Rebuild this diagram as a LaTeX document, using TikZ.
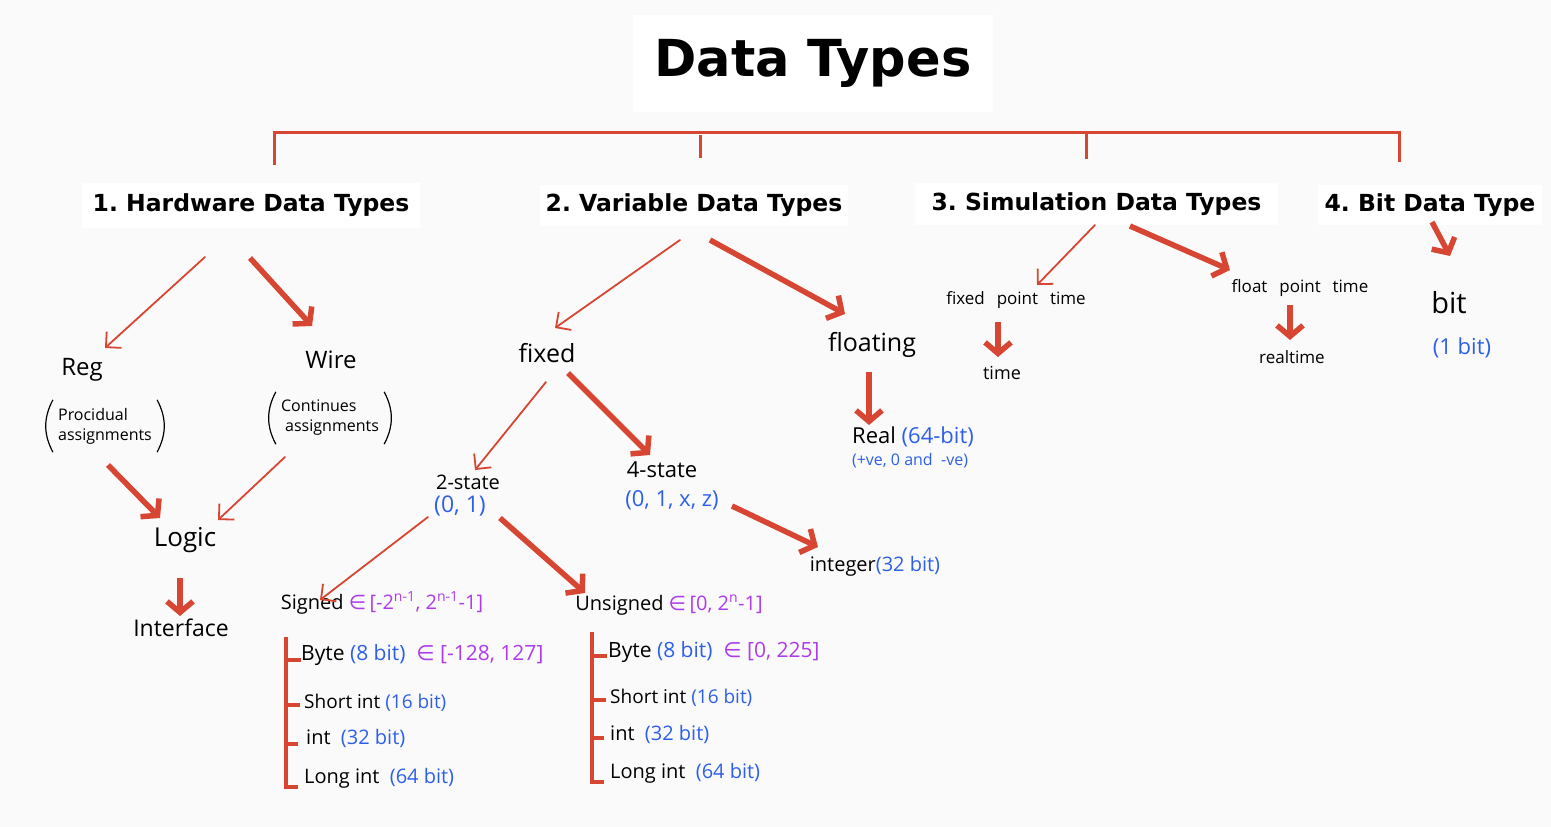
\documentclass[tikz,border=0pt]{standalone}
\usepackage{fontspec}
\setmainfont{Open Sans}
\newfontfamily\headf{DejaVu Sans}
\newfontfamily\symf{DejaVu Sans}
\usetikzlibrary{arrows.meta,calc}
\definecolor{bgc}{RGB}{250,250,250}
\definecolor{rd}{RGB}{214,70,50}
\definecolor{bl}{RGB}{45,95,235}
\definecolor{pu}{RGB}{175,60,235}
\newcommand{\fs}[1]{\fontsize{#1}{#1}\selectfont}
\newcommand{\inn}{{\symf\char"2208}}
\frenchspacing
\begin{document}
\begin{tikzpicture}[x=1pt,y=-1pt,
  head/.style={fill=white, inner sep=0pt, font=\headf\bfseries},
  hw/.style={inner sep=1pt, text=black},
  note/.style={inner xsep=9pt, inner ysep=0pt, minimum height=52pt, align=left, font=\fontsize{16}{20}\selectfont},
  paren/.style={draw=black, line width=1.2pt},
  thinarr/.style={draw=rd, line width=1.8pt, line cap=round, -{Straight Barb[length=11pt,width=22pt]}},
  thickarr/.style={draw=rd, line width=5.5pt, -{Straight Barb[length=11pt,width=26pt]}},
  brk/.style={draw=rd, line width=3pt},
  lst/.style={draw=rd, line width=4.5pt},
  tick/.style={draw=rd, line width=3.5pt}
]
\fill[bgc] (0,0) rectangle (1551,827);
\useasboundingbox (0,0) rectangle (1551,827);

% title and headings
\node[head, minimum width=360pt, minimum height=97pt, font=\headf\bfseries\fs{51}] (title) at (813,63.5) {Data Types};
\node[head, minimum width=338pt, minimum height=45pt, font=\headf\bfseries\fs{23.5}] (hwt) at (251,205.5) {1. Hardware Data Types};
\node[head, minimum width=308pt, minimum height=41pt, font=\headf\bfseries\fs{23.5}] (var) at (694,205.5) {2. Variable Data Types};
\node[head, minimum width=363pt, minimum height=42pt, font=\headf\bfseries\fs{23.5}] (sim) at (1096.5,204) {3. Simulation Data Types};
\node[head, minimum width=224pt, minimum height=40pt, font=\headf\bfseries\fs{23.5}] (bit) at (1430,205) {4. Bit Data Type};

% bracket
\draw[brk] ($(hwt.north)+(23,-18)$) -- ++(0,-32) -| ($(bit.north)+(-31,-23)$);
\draw[brk] ($(var.north)+(6,-50)$) -- ++(0,23);
\draw[brk] ($(sim.north)+(-10.5,-51)$) -- ++(0,27);

% hardware branch
\node[hw, font=\fs{24}] (reg) at (82,370) {Reg};
\node[note] (regnote) at (105,426) {Procidual\\assignments};
\draw[paren] ($(regnote.north west)+(4,0)$) to[bend right=28] ($(regnote.south west)+(4,0)$);
\draw[paren] ($(regnote.north east)+(-4,0)$) to[bend left=28] ($(regnote.south east)+(-4,0)$);
\node[hw, font=\fs{24}] (wire) at (331,360) {Wire};
\node[note] (wirenote) at (330,418) {Continues\\\ assignments};
\draw[paren] ($(wirenote.north west)+(4,0)$) to[bend right=28] ($(wirenote.south west)+(4,0)$);
\draw[paren] ($(wirenote.north east)+(-4,0)$) to[bend left=28] ($(wirenote.south east)+(-4,0)$);
\node[hw, font=\fs{26}] (logic) at (185,540) {Logic};
\node[hw, font=\fs{23}] (iface) at (181,628) {Interface};

\draw[thinarr] ($(hwt)+(-46,51.5)$) -- ($(reg)+(23,-22)$);
\draw[thickarr] ($(hwt)+(-1,52.5)$) -- ($(wire)+(-19,-34)$);
\draw[thickarr] ($(regnote)+(3,39)$) -- ($(logic)+(-25,-22)$);
\draw[thinarr] ($(wirenote)+(-45,39)$) -- ($(logic)+(33,-20)$);
\draw[thickarr] ($(logic)+(-5,38)$) -- ($(iface)+(-1,-12)$);

% variable branch
\node[hw, font=\fs{25}] (fixed) at (547,353) {fixed};
\node[hw, font=\fs{25}] (floating) at (872,345) {floating};
\node[hw, font=\fs{22}] (real) at (913,437) {Real \textcolor{bl}{(64-bit)}};
\node[hw, font=\fs{16}, text=bl] (realnote) at (910,461) {(+ve, 0 and \ -ve)};
\node[hw, font=\fs{20}] (two) at (468,482) {2-state};
\node[hw, font=\fs{23}, text=bl] (twovals) at (460,506) {(0, 1)};
\node[hw, font=\fs{22}] (four) at (662,470) {4-state};
\node[hw, font=\fs{22}, text=bl] (fourvals) at (672,500) {(0, 1, x, z)};
\node[hw, font=\fs{20}] (integer) at (875,566) {integer\textcolor{bl}{(32 bit)}};
\node[hw, font=\fs{20}] (signed) at (382,603) {Signed \textcolor{pu}{\inn\,[-2\textsuperscript{n-1}, 2\textsuperscript{n-1}-1]}};
\node[hw, font=\fs{20}] (unsigned) at (669,605) {Unsigned \textcolor{pu}{\inn\,[0, 2\textsuperscript{n}-1]}};

\draw[thinarr] ($(var)+(-14,34.5)$) -- ($(fixed)+(8,-25)$);
\draw[thickarr] ($(var)+(16,34.5)$) -- ($(floating)+(-27,-31)$);
\draw[thickarr] ($(floating)+(-3,27)$) -- ($(real)+(-44,-12)$);
\draw[thinarr] ($(fixed)+(-1,29)$) -- ($(two)+(7,-12)$);
\draw[thickarr] ($(fixed)+(21,20)$) -- ($(four)+(-12,-15)$);
\draw[thickarr] ($(fourvals)+(60,6)$) -- ($(integer)+(-57,-19)$);
\draw[thinarr] ($(twovals)+(-32,11)$) -- ($(signed)+(-62,-3)$);
\draw[thickarr] ($(twovals)+(40,12)$) -- ($(unsigned)+(-84,-12)$);

% signed list
\node[hw, font=\fs{21}, anchor=west] (sb) at (300,655) {Byte \textcolor{bl}{(8 bit)} \ \textcolor{pu}{\inn\ [-128, 127]}};
\node[hw, font=\fs{19}, anchor=west] (ss) at (303,703) {Short int \textcolor{bl}{(16 bit)}};
\node[hw, font=\fs{20}, anchor=west] (si) at (305,738) {int \ \textcolor{bl}{(32 bit)}};
\node[hw, font=\fs{20}, anchor=west] (sl) at (303,778) {Long int \ \textcolor{bl}{(64 bit)}};
\coordinate (stop) at ($(signed)+(-96,34)$);
\draw[lst] (stop) -- (stop |- sl.south);
\draw[tick] (stop |- sb.center) ++(0,5) -- ++(15,0);
\draw[tick] (stop |- ss.center) ++(0,2) -- ++(14,0);
\draw[tick] (stop |- si.center) ++(0,6) -- ++(12,0);
\draw[tick] (stop |- sl.south) ++(-2.2,-2) -- ++(14,0);

% unsigned list
\node[hw, font=\fs{21}, anchor=west] (ub) at (607,652) {Byte \textcolor{bl}{(8 bit)} \ \textcolor{pu}{\inn\ [0, 225]}};
\node[hw, font=\fs{19}, anchor=west] (us) at (609,698) {Short int \textcolor{bl}{(16 bit)}};
\node[hw, font=\fs{20}, anchor=west] (ui) at (609,734) {int \ \textcolor{bl}{(32 bit)}};
\node[hw, font=\fs{20}, anchor=west] (ul) at (609,773) {Long int \ \textcolor{bl}{(64 bit)}};
\coordinate (utop) at ($(unsigned)+(-77,27)$);
\draw[lst] (utop) -- (utop |- ul.south);
\draw[tick] (utop |- ub.center) ++(0,4) -- ++(15,0);
\draw[tick] (utop |- us.center) ++(0,2) -- ++(14,0);
\draw[tick] (utop |- ui.center) ++(0,4) -- ++(12,0);
\draw[tick] (utop |- ul.south) ++(-2.2,-2) -- ++(14,0);

% simulation branch
\node[hw, font=\fs{17}] (fpt) at (1016,300) {fixed\hspace{0.7em}point\hspace{0.7em}time};
\node[hw, font=\fs{18}] (time) at (1002,373) {time};
\node[hw, font=\fs{17}] (flpt) at (1300,288) {float\hspace{0.7em}point\hspace{0.7em}time};
\node[hw, font=\fs{17}] (realtime) at (1292,357) {realtime};
\draw[thinarr] ($(sim)+(-1.5,21)$) -- ($(fpt)+(21,-15)$);
\draw[thickarr] ($(sim)+(33.5,22)$) -- ($(flpt)+(-70,-18)$);
\draw[thickarr] ($(fpt)+(-18,22)$) -- ($(time)+(-4,-16)$);
\draw[thickarr] ($(flpt)+(-10,17)$) -- ($(realtime)+(-2,-17)$);

% bit branch
\node[hw, font=\fs{29}] (bitn) at (1449,303) {bit};
\node[hw, font=\fs{22}, text=bl] (bitval) at (1462,348) {(1 bit)};
\draw[thickarr] ($(bit)+(2,17)$) -- ($(bitn)+(1,-47)$);
\end{tikzpicture}
\end{document}
